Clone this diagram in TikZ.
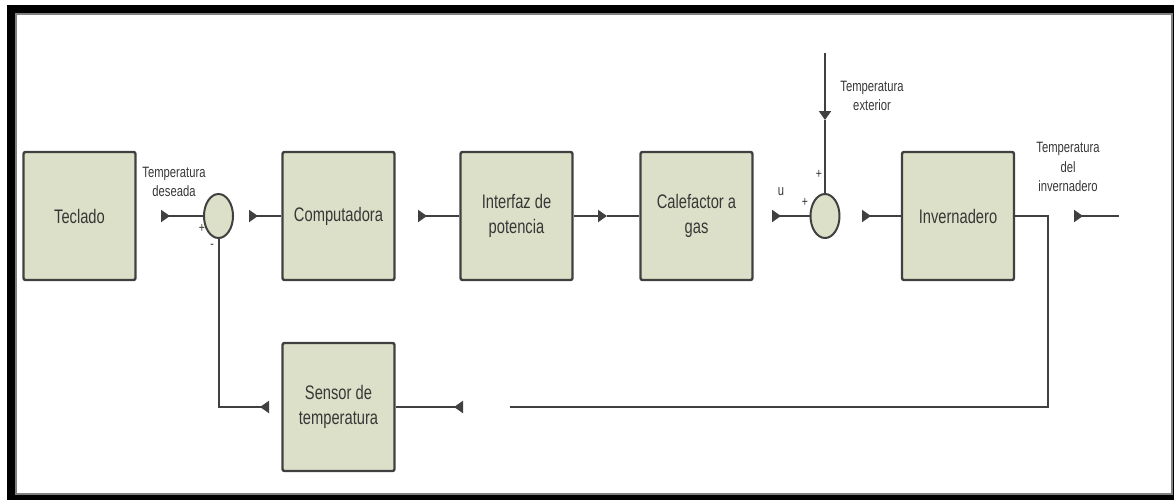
\documentclass[tikz,border=0pt]{standalone}
\usepackage{fontspec}
\setmainfont[FakeStretch=0.75]{Liberation Sans}
\usetikzlibrary{arrows.meta,shapes.geometric}
\definecolor{boxfill}{RGB}{221,224,200}
\definecolor{linegray}{RGB}{64,64,64}
\definecolor{textgray}{RGB}{55,55,55}
\begin{document}
\begin{tikzpicture}[
  x=0.5pt, y=-0.5pt,
  block/.style={rectangle, draw=linegray, line width=1.2pt, fill=boxfill, rounded corners=1pt,
    minimum width=56pt, minimum height=64pt, align=center, text=textgray,
    font=\fontsize{9.8}{12.5}\selectfont},
  sum/.style={ellipse, draw=linegray, line width=1pt, fill=boxfill, minimum width=14.5pt, minimum height=22pt, inner sep=0pt},
  lbl/.style={align=center, text=textgray, inner sep=0pt, font=\fontsize{7.5}{9.7}\selectfont},
  sgn/.style={text=textgray, inner sep=0pt, font=\fontsize{7}{8}\selectfont},
  line/.style={draw=linegray, line width=1pt},
  port/.style={line, {Triangle[reversed, length=4.5pt, width=6pt]}-},
  tip/.style={line, -{Triangle[length=4.5pt, width=6pt]}}
]
\useasboundingbox (0,0) rectangle (1174,499);
\clip (0,0) rectangle (1174,499);
\fill[black, even odd rule] (7,5) rectangle (1190,510) (16,14) rectangle (1172,494);
\draw[gray, line width=0.8pt] (16,14) rectangle (1172,494);

\node[block] (teclado) at (79.5,216) {Teclado};
\node[sum, right of=teclado, node distance=69.5pt] (sum1) {};
\node[block, right of=sum1, node distance=60pt] (comp) {Computadora};
\node[block, right of=comp, node distance=89pt] (interfaz) {Interfaz de\\potencia};
\node[block, right of=interfaz, node distance=90pt] (calef) {Calefactor a\\gas};
\node[sum, right of=calef, node distance=64.25pt] (sum2) {};
\node[block, right of=sum2, node distance=66.5pt] (inver) {Invernadero};
\node[block, below of=comp, node distance=95.5pt] (sensor) {Sensor de\\temperatura};

\node[lbl] (ldes) at (174,182) {Temperatura\\deseada};
\node[lbl] (lext) at (872,96) {Temperatura\\exterior};
\node[lbl] (linv) at (1068,167) {Temperatura\\del\\invernadero};
\node[lbl] (lu) at (781,192) {u};
\node[sgn] (p1) at (202,228) {+};
\node[sgn] (m1) at (212,246) {-};
\node[sgn] (p2) at (805,202) {+};
\node[sgn] (p3) at (819,174) {+};

\coordinate (in1) at (161,216);
\coordinate (in2) at (249,216);
\coordinate (in3) at (418,216);
\coordinate (mid) at (607,216);
\coordinate (in4) at (772,216);
\coordinate (ext) at (825,53);
\coordinate (extmid) at (825,120);
\coordinate (in5) at (862,216);
\coordinate (corner) at (1048,216);
\coordinate (fbend) at (510,407);
\coordinate (outa) at (1074,216);
\coordinate (outb) at (1119,216);
\coordinate (in6) at (463,407);
\coordinate (in7) at (269,407);

\draw[port] (in1) -- (sum1);
\draw[port] (in2) -- (comp);
\draw[port] (in3) -- (interfaz);
\draw[tip] (interfaz) -- (mid);
\draw[line] (mid) -- (calef);
\draw[port] (in4) -- (sum2);
\draw[tip] (ext) -- (extmid);
\draw[line] (extmid) -- (sum2);
\draw[port] (in5) -- (inver);
\draw[line] (inver) -- (corner) |- (fbend);
\draw[port] (outa) -- (outb);
\draw[port] (in6) -- (sensor);
\draw[port] (in7) -| (sum1);
\end{tikzpicture}
\end{document}
